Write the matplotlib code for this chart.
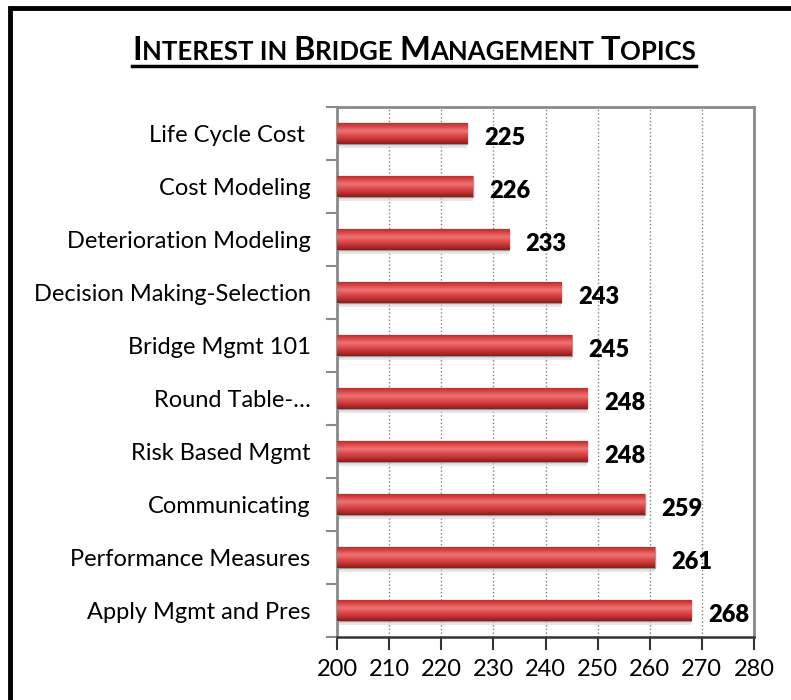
import numpy as np
import matplotlib.pyplot as plt
from matplotlib.patches import Rectangle
from matplotlib.lines import Line2D
from matplotlib.colors import LinearSegmentedColormap

topics = ['Life Cycle Cost ', 'Cost Modeling', 'Deterioration Modeling',
          'Decision Making-Selection', 'Bridge Mgmt 101', 'Round Table-\u2026',
          'Risk Based Mgmt', 'Communicating', 'Performance Measures',
          'Apply Mgmt and Pres']
counts = [225, 226, 233, 243, 245, 248, 248, 259, 261, 268]
xticks = [200, 210, 220, 230, 240, 250, 260, 270, 280]

plt.rcParams['font.family'] = ['Lato', 'DejaVu Sans']

fig = plt.figure(figsize=(7.91, 7.0), dpi=100)
ax = fig.add_axes([337 / 791, 63 / 700, 417 / 791, 530 / 700])

y = np.arange(len(topics))
bh = 0.4
bars = ax.barh(y, np.array(counts) - 200, left=200, height=bh,
               color='#d23c3c', edgecolor='#9a9a9a', linewidth=1.0, zorder=3)

# glossy gradient on every bar
cmap = LinearSegmentedColormap.from_list(
    'bar', ['#8a1c1c', '#c23232', '#de4c4c', '#ee7474', '#dc4646', '#b02a2a'])
grad = np.linspace(0, 1, 64).reshape(-1, 1)
for b, yy, v in zip(bars, y, counts):
    im = ax.imshow(grad, aspect='auto', cmap=cmap, origin='lower',
                   extent=[200, v, yy + bh / 2, yy - bh / 2], zorder=3.5)
    im.set_clip_path(b)
    # soft shadow under the bar
    ax.add_patch(Rectangle((200, yy + bh / 2), v - 200, 0.08,
                           color='#d8d8d8', alpha=0.6, lw=0, zorder=2))
    ax.text(v + 3.2, yy + 0.08, str(v), va='center', ha='left',
            fontsize=17, fontweight='heavy', zorder=5)

ax.set_xlim(200, 280)
ax.set_ylim(len(topics) - 0.5, -0.5)
ax.set_xticks(xticks)
ax.set_xticklabels([str(t) for t in xticks], fontsize=17)
ax.set_yticks(y)
ax.set_yticklabels(topics, fontsize=17)
ax.set_yticks(np.arange(-0.5, len(topics), 1), minor=True)
ax.tick_params(axis='y', which='major', length=0, pad=19)
ax.tick_params(axis='y', which='minor', length=8, width=1.5, color='#8a8a8a')
ax.tick_params(axis='x', length=9, width=1.5, color='#333333', pad=7)

ax.grid(axis='x', linestyle=':', color='#808080', linewidth=1, zorder=0)
ax.set_axisbelow(True)
for s in ['left', 'right', 'top']:
    ax.spines[s].set_color('#8a8a8a')
    ax.spines[s].set_linewidth(2)
ax.spines['bottom'].set_color('#333333')
ax.spines['bottom'].set_linewidth(1.8)

# outer border
fig.patches.append(Rectangle((9.5 / 791, -0.2), 1.0, (700 - 8.5) / 700 + 0.2,
                             transform=fig.transFigure, fill=False,
                             edgecolor='black', linewidth=3.5))

# small-caps underlined title
pieces = [('I', 23.5), ('NTEREST IN ', 18.5), ('B', 23.5), ('RIDGE ', 18.5),
          ('M', 23.5), ('ANAGEMENT ', 18.5), ('T', 23.5), ('OPICS', 18.5)]
fig.canvas.draw()
r = fig.canvas.get_renderer()
texts = []
x0 = 0
for s, fs in pieces:
    t = fig.text(x0, 0, s, fontsize=fs, fontweight='bold', ha='left',
                 va='baseline', transform=None)
    w = t.get_window_extent(r).width
    texts.append((t, x0))
    x0 += w
total = x0
start = 414 - total / 2
base = 700 - 60
for t, off in texts:
    t.set_position((start + off, base))
fig.add_artist(Line2D([start, start + total], [700 - 66, 700 - 66],
                      transform=None, color='black', linewidth=2.5))

fig.savefig('out.png', dpi=100)
